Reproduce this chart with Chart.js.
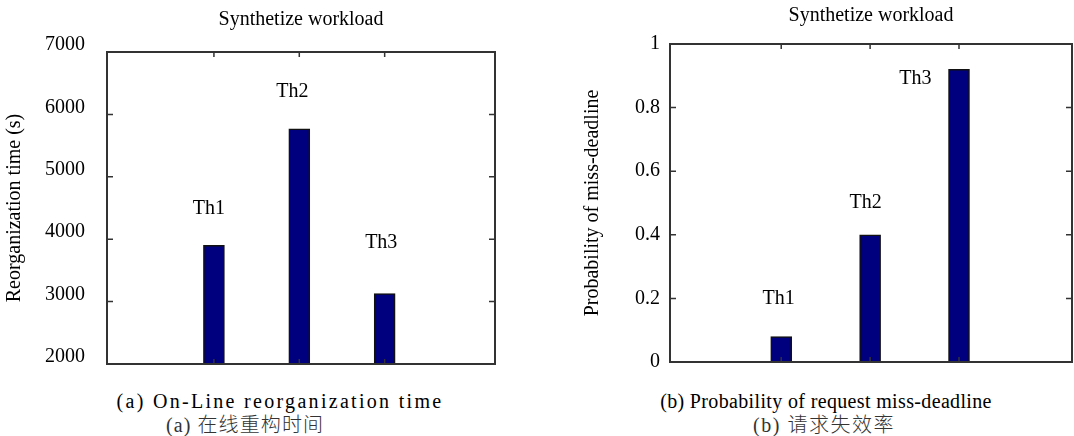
<!DOCTYPE html>
<html>
<head>
<meta charset="utf-8">
<script src="https://cdn.jsdelivr.net/npm/chart.js@4"></script>
<style>
  body { margin: 0; background: #fff; }
  #wrap { position: relative; width: 1074px; height: 436px; overflow: hidden; }
  canvas { position: absolute; top: 0; }
  .cap {
    position: absolute;
    transform: translate(-50%, -50%);
    white-space: nowrap;
    font-family: "Liberation Serif", "Times New Roman", "Noto Sans CJK SC", serif;
    font-size: 20px;
    line-height: 20px;
    color: #000;
  }
  .cap.cn { color: #333; font-weight: 300; }
</style>
</head>
<body>
<div id="wrap">
  <canvas id="chartA" width="540" height="380" style="left:0"></canvas>
  <canvas id="chartB" width="534" height="380" style="left:540px"></canvas>
  <div class="cap" style="left:280px; top:401px; letter-spacing:2.3px">(a) On-Line reorganization time</div>
  <div class="cap cn" style="left:245px; top:425px; letter-spacing:1.1px">(a) 在线重构时间</div>
  <div class="cap" style="left:826px; top:401px; letter-spacing:0.35px">(b) Probability of request miss-deadline</div>
  <div class="cap cn" style="left:824px; top:425px; letter-spacing:1.5px">(b) 请求失效率</div>
</div>
<script>
const thresholds = ['Th1', 'Th2', 'Th3'];
const barPos = [1, 2, 3];

// (a) reorganization time, seconds
const reorgTime = [3900, 5770, 3130];
const reorgRange = [2000, 7000, 1000];
const reorgLabelX = [0.94, 1.92, 2.96];
const reorgLabelY = [4480, 6360, 3940];

// (b) probability of miss-deadline
const missProb = [0.08, 0.40, 0.92];
const missRange = [0, 1, 0.2];
const missLabelX = [0.97, 1.95, 2.51];
const missLabelY = [0.20, 0.50, 0.89];

const SERIF = '"Liberation Serif", "Times New Roman", serif';

// matlab style box with inward ticks, plus the Th text labels
const boxPlugin = {
    id: 'matlabBox',
    afterDatasetsDraw(chart, args, opts) {
        const { ctx, chartArea: a, scales: { x, y } } = chart;
        ctx.save();
        ctx.strokeStyle = '#333';
        ctx.lineWidth = 2;
        ctx.strokeRect(a.left, a.top, a.right - a.left, a.bottom - a.top);

        ctx.lineWidth = 1.5;
        ctx.beginPath();
        y.ticks.forEach(t => {
            const py = y.getPixelForValue(t.value);
            if (py <= a.top + 1 || py >= a.bottom - 1) return;
            ctx.moveTo(a.left, py); ctx.lineTo(a.left + 6, py);
            ctx.moveTo(a.right, py); ctx.lineTo(a.right - 6, py);
        });
        barPos.forEach(v => {
            const px = x.getPixelForValue(v);
            ctx.moveTo(px, a.top); ctx.lineTo(px, a.top + 5);
            ctx.moveTo(px, a.bottom); ctx.lineTo(px, a.bottom - 5);
        });
        ctx.stroke();

        ctx.fillStyle = '#000';
        ctx.font = '20px ' + SERIF;
        ctx.textAlign = 'center';
        ctx.textBaseline = 'middle';
        thresholds.forEach((s, i) => {
            ctx.fillText(s, x.getPixelForValue(opts.labelX[i]), y.getPixelForValue(opts.labelY[i]));
        });
        ctx.restore();
    }
};

function makeChart(canvas, cfg) {
    return new Chart(canvas, {
        type: 'bar',
        data: {
            datasets: [{
                data: barPos.map((p, i) => ({ x: p, y: cfg.values[i] })),
                backgroundColor: '#00007f',
                borderColor: '#111',
                borderWidth: 1.5,
                barThickness: 21,
            }],
        },
        plugins: [boxPlugin],
        options: {
            responsive: false,
            animation: false,
            devicePixelRatio: 1,
            layout: { padding: cfg.padding },
            plugins: {
                legend: { display: false },
                tooltip: { enabled: false },
                title: {
                    display: true,
                    text: 'Synthetize workload',
                    fullSize: false,
                    color: '#000',
                    font: { family: SERIF, size: 20, weight: 'normal' },
                    padding: cfg.titlePadding,
                },
                matlabBox: { labelX: cfg.labelX, labelY: cfg.labelY },
            },
            scales: {
                x: {
                    type: 'linear',
                    display: false,
                    min: 0,
                    max: cfg.xMax,
                },
                y: {
                    min: cfg.range[0],
                    max: cfg.range[1],
                    grid: { display: false, drawTicks: false },
                    border: { display: false },
                    ticks: {
                        stepSize: cfg.range[2],
                        padding: cfg.tickPadding,
                        labelOffset: cfg.labelOffset,
                        color: '#000',
                        font: { family: SERIF, size: 20 },
                        callback: v => String(Math.round(v * 100) / 100),
                    },
                    title: {
                        display: true,
                        text: cfg.yTitle,
                        color: '#000',
                        font: { family: SERIF, size: 20 },
                        padding: { top: cfg.yTitlePad, bottom: 0 },
                    },
                    afterFit(scale) {
                        scale.width = cfg.yWidth;
                        scale.paddingTop = 0;
                        scale.paddingBottom = 0;
                    },
                },
            },
        },
    });
}

makeChart(document.getElementById('chartA'), {
    values: reorgTime,
    range: reorgRange,
    labelX: reorgLabelX,
    labelY: reorgLabelY,
    yTitle: 'Reorganization time (s)',
    xMax: 4.04,
    yWidth: 107,
    yTitlePad: 3,
    tickPadding: 22,
    labelOffset: -7,
    padding: { left: 0, top: 0, right: 45, bottom: 16 },
    titlePadding: { top: 8, bottom: 20 },
});

makeChart(document.getElementById('chartB'), {
    values: missProb,
    range: missRange,
    labelX: missLabelX,
    labelY: missLabelY,
    yTitle: 'Probability of miss-deadline',
    xMax: 4.02,
    yWidth: 130,
    yTitlePad: 41,
    tickPadding: 10,
    labelOffset: 0,
    padding: { left: 0, top: 0, right: 2, bottom: 18 },
    titlePadding: { top: 4, bottom: 16 },
});
</script>
</body>
</html>
